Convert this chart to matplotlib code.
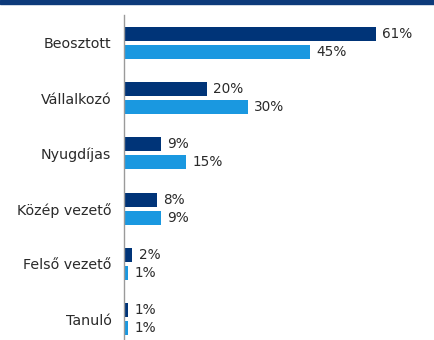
import numpy as np
import matplotlib
matplotlib.use("Agg")
import matplotlib.pyplot as plt
from matplotlib.patches import Rectangle

categories = ["Beosztott", "Vállalkozó", "Nyugdíjas", "Közép vezető", "Felső vezető", "Tanuló"]
series_dark = [61, 20, 9, 8, 2, 1]
series_light = [45, 30, 15, 9, 1, 1]

dark = "#003478"
light = "#1a98e0"
text_color = "#2a2a2a"

fig = plt.figure(figsize=(4.35, 3.4), dpi=100)
fig.patches.append(Rectangle((0, 1 - 4 / 340), 1, 4 / 340, transform=fig.transFigure,
                             color="#0d3a7a", zorder=0))

ax = fig.add_axes([124 / 435, 0, 1 - 124 / 435, 1 - 15 / 340])
y = np.arange(len(categories))
off = 0.164
h = 0.255
b1 = ax.barh(y - off, series_dark, height=h, color=dark)
b2 = ax.barh(y + off, series_light, height=h, color=light)

for bars, vals in ((b1, series_dark), (b2, series_light)):
    for bar, v in zip(bars, vals):
        ax.annotate(f"{v}%", (bar.get_width(), bar.get_y() + bar.get_height() / 2),
                    xytext=(4.5, 0), textcoords="offset points", va="center", ha="left",
                    fontsize=9.8, color=text_color)

ax.set_xlim(0, 75.3)
ax.set_ylim(5.38, -0.507)
ax.set_yticks(y)
ax.set_yticklabels(categories, fontsize=10.3, color=text_color)
ax.tick_params(axis="y", length=0, pad=9)
ax.set_xticks([])
for s in ("top", "right", "bottom"):
    ax.spines[s].set_visible(False)
ax.spines["left"].set_color("#9a9a9a")
ax.spines["left"].set_linewidth(1.0)

fig.savefig("out.png", dpi=100)
